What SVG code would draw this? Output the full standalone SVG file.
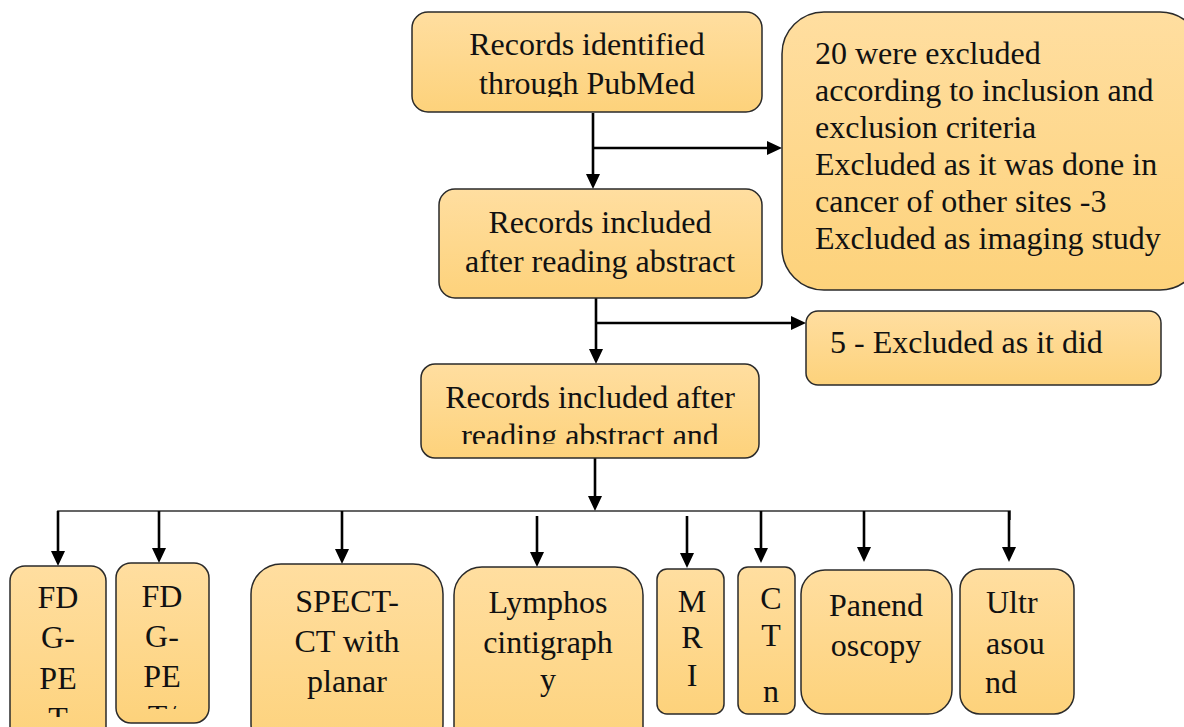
<svg xmlns="http://www.w3.org/2000/svg" width="1184" height="727" viewBox="0 0 1184 727">
<style>
.box{stroke:#2a2a2a;stroke-width:1.5;fill:url(#g)}
.t{font-family:"Liberation Serif","Times New Roman",serif;font-size:32px;fill:#111}
.c{text-anchor:middle}
.ln{stroke:#000;stroke-width:2.6;fill:none}
.thin{stroke:#333;stroke-width:1.6;fill:none}
</style>
<defs>
<linearGradient id="g" x1="0" y1="0" x2="0" y2="1">
<stop offset="0" stop-color="#FFDEA0"/>
<stop offset="1" stop-color="#FDD27B"/>
</linearGradient>
<marker id="ah" markerUnits="userSpaceOnUse" markerWidth="16" markerHeight="16" refX="7" refY="7" orient="auto">
<path d="M0,0 L15,7 L0,14 z" fill="#000"/>
</marker>
<clipPath id="c1"><rect x="412" y="12" width="350" height="85"/></clipPath>
<clipPath id="c2"><rect x="782" y="12" width="402" height="256"/></clipPath>
<clipPath id="c4"><rect x="806" y="311" width="355" height="65"/></clipPath>
<clipPath id="c5"><rect x="421" y="364" width="338" height="80"/></clipPath>
<clipPath id="c6"><rect x="10" y="566" width="96" height="151"/></clipPath>
<clipPath id="c7"><rect x="116" y="563" width="93" height="146"/></clipPath>
</defs>
<rect width="1184" height="727" fill="#fff"/>

<g id="connectors">
<line class="ln" x1="593" y1="113" x2="593" y2="181" marker-end="url(#ah)"/>
<line class="ln" x1="593" y1="148" x2="774" y2="148" marker-end="url(#ah)"/>
<line class="ln" x1="596" y1="298" x2="596" y2="356" marker-end="url(#ah)"/>
<line class="ln" x1="596" y1="323" x2="798" y2="323" marker-end="url(#ah)"/>
<line class="ln" x1="595" y1="458" x2="595" y2="503" marker-end="url(#ah)"/>
<polyline class="thin" points="58,520 58,511 1010,511 1010,520"/>
<line class="ln" x1="58" y1="511" x2="58" y2="558" marker-end="url(#ah)"/>
<line class="ln" x1="159" y1="511" x2="159" y2="555" marker-end="url(#ah)"/>
<line class="ln" x1="342" y1="511" x2="342" y2="556" marker-end="url(#ah)"/>
<line class="ln" x1="537" y1="516" x2="537" y2="559" marker-end="url(#ah)"/>
<line class="ln" x1="687" y1="516" x2="687" y2="560" marker-end="url(#ah)"/>
<line class="ln" x1="761" y1="511" x2="761" y2="555" marker-end="url(#ah)"/>
<line class="ln" x1="864" y1="511" x2="864" y2="554" marker-end="url(#ah)"/>
<line class="ln" x1="1009" y1="511" x2="1009" y2="554" marker-end="url(#ah)"/>
</g>

<g id="n-pubmed">
<rect class="box" x="412" y="12" width="350" height="100" rx="16"/>
<g clip-path="url(#c1)">
<text class="t c" x="587" y="55">Records identified</text>
<text class="t c" x="587" y="94">through PubMed</text>
</g>
</g>

<g id="n-excluded20">
<rect class="box" x="782" y="12" width="420" height="278" rx="42"/>
<g clip-path="url(#c2)">
<text class="t" x="815" y="64">20 were excluded</text>
<text class="t" x="815" y="101">according to inclusion and</text>
<text class="t" x="815" y="138">exclusion criteria</text>
<text class="t" x="815" y="175">Excluded as it was done in</text>
<text class="t" x="815" y="212">cancer of other sites -3</text>
<text class="t" x="815" y="249">Excluded as imaging study</text>
</g>
</g>

<g id="n-abstract">
<rect class="box" x="439" y="189" width="323" height="109" rx="16"/>
<text class="t c" x="600" y="233">Records included</text>
<text class="t c" x="600" y="272">after reading abstract</text>
</g>

<g id="n-excluded5">
<rect class="box" x="806" y="311" width="355" height="74" rx="12"/>
<g clip-path="url(#c4)">
<text class="t" x="830" y="353">5 - Excluded as it did</text>
</g>
</g>

<g id="n-fulltext">
<rect class="box" x="421" y="364" width="338" height="94" rx="14"/>
<g clip-path="url(#c5)">
<text class="t c" x="590" y="408">Records included after</text>
<text class="t c" x="590" y="446">reading abstract and</text>
</g>
</g>

<g id="n-fdgpet">
<rect class="box" x="10" y="566" width="96" height="180" rx="15"/>
<g clip-path="url(#c6)">
<text class="t c" x="58" y="608">FD</text>
<text class="t c" x="58" y="648">G-</text>
<text class="t c" x="58" y="689">PE</text>
<text class="t c" x="58" y="729">T</text>
</g>
</g>

<g id="n-fdgpetct">
<rect class="box" x="116" y="563" width="93" height="160" rx="15"/>
<g clip-path="url(#c7)">
<text class="t c" x="162" y="607">FD</text>
<text class="t c" x="162" y="647">G-</text>
<text class="t c" x="162" y="687">PE</text>
<text class="t c" x="162" y="727">T/</text>
</g>
</g>

<g id="n-spect">
<rect class="box" x="251" y="564" width="192" height="190" rx="30"/>
<text class="t c" x="347" y="612">SPECT-</text>
<text class="t c" x="347" y="652">CT with</text>
<text class="t c" x="347" y="692">planar</text>
</g>

<g id="n-lympho">
<rect class="box" x="454" y="567" width="189" height="190" rx="28"/>
<text class="t c" x="548" y="613">Lymphos</text>
<text class="t c" x="548" y="653">cintigraph</text>
<text class="t c" x="548" y="690">y</text>
</g>

<g id="n-mri">
<rect class="box" x="657" y="569" width="67" height="145" rx="10"/>
<text class="t c" x="692" y="612">M</text>
<text class="t c" x="692" y="648">R</text>
<text class="t c" x="692" y="686">I</text>
</g>

<g id="n-ct">
<rect class="box" x="738" y="567" width="57" height="147" rx="10"/>
<text class="t c" x="771" y="609">C</text>
<text class="t c" x="771" y="646">T</text>
<text class="t c" x="771" y="702">n</text>
</g>

<g id="n-panendoscopy">
<rect class="box" x="801" y="570" width="151" height="144" rx="24"/>
<text class="t c" x="876" y="616">Panend</text>
<text class="t c" x="876" y="656">oscopy</text>
</g>

<g id="n-ultrasound">
<rect class="box" x="960" y="569" width="114" height="145" rx="20"/>
<text class="t" x="986" y="613">Ultr</text>
<text class="t" x="986" y="654">asou</text>
<text class="t" x="985" y="693">nd</text>
</g>
</svg>
